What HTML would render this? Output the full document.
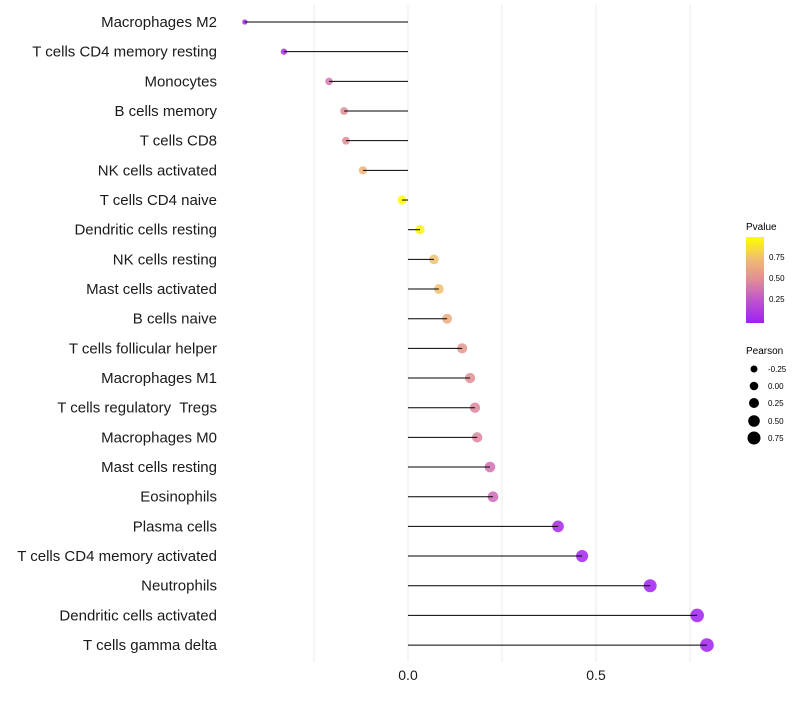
<!DOCTYPE html>
<html><head><meta charset="utf-8"><style>
body{margin:0;background:#fff;font-family:"Liberation Sans",sans-serif}
svg text{font-family:"Liberation Sans",sans-serif;white-space:pre}
</style></head><body>
<svg id="chart" width="800" height="700" xmlns="http://www.w3.org/2000/svg">
<defs><linearGradient id="pg" x1="0" y1="1" x2="0" y2="0">
<stop offset="0" stop-color="#a020f0"/><stop offset="0.25" stop-color="#be50d2"/><stop offset="0.5" stop-color="#e18c96"/><stop offset="0.75" stop-color="#f0be6e"/><stop offset="1" stop-color="#ffff00"/></linearGradient></defs>
<g id="grid"></g>
<g id="points"></g>
<g id="marks"></g>
<g id="ylabels"></g>
<g id="xlabels"></g>
<g>
<text x="746" y="230" font-size="10">Pvalue</text>
<rect x="746" y="237" width="18" height="86" fill="url(#pg)"/>
<text x="769" y="260" font-size="8">0.75</text>
<text x="769" y="281" font-size="8">0.50</text>
<text x="769" y="302" font-size="8">0.25</text>
</g>
<g>
<text x="746" y="354" font-size="10">Pearson</text>
<circle cx="754" cy="369" r="3.5" fill="#000"/><text x="768" y="372" font-size="8">-0.25</text>
<circle cx="754" cy="386" r="4.3" fill="#000"/><text x="768" y="389" font-size="8">0.00</text>
<circle cx="754" cy="403" r="5" fill="#000"/><text x="768" y="406" font-size="8">0.25</text>
<circle cx="754" cy="421" r="5.8" fill="#000"/><text x="768" y="424" font-size="8">0.50</text>
<circle cx="754" cy="438" r="6.5" fill="#000"/><text x="768" y="441" font-size="8">0.75</text>
</g>
</svg>
<script>
const categories=["Macrophages M2","T cells CD4 memory resting","Monocytes","B cells memory","T cells CD8","NK cells activated","T cells CD4 naive","Dendritic cells resting","NK cells resting","Mast cells activated","B cells naive","T cells follicular helper","Macrophages M1","T cells regulatory  Tregs","Macrophages M0","Mast cells resting","Eosinophils","Plasma cells","T cells CD4 memory activated","Neutrophils","Dendritic cells activated","T cells gamma delta"];
const pearson=[-0.434,-0.330,-0.210,-0.170,-0.165,-0.120,-0.016,0.032,0.069,0.082,0.104,0.144,0.165,0.178,0.184,0.218,0.226,0.399,0.463,0.644,0.769,0.795];
const pvalue=[0.02,0.1,0.4,0.5,0.5,0.7,1.0,0.95,0.75,0.75,0.65,0.55,0.5,0.47,0.47,0.38,0.36,0.03,0.02,0.0,0.0,0.0];
const gridTicks=[-0.25,0,0.25,0.5,0.75];
const xTickLabels=["0.0","0.5"];
const xTickValues=[0,0.5];
const NS="http://www.w3.org/2000/svg";
const x=v=>408+v*376;
const y=i=>22+i*29.67;
const rr=v=>Math.sqrt(Math.max(21+33*v,2));
function col(p){const s=[[0,[160,32,240]],[0.25,[190,80,210]],[0.5,[225,140,150]],[0.75,[240,190,110]],[1,[255,255,0]]];
for(let k=1;k<s.length;k++){if(p<=s[k][0]){const t=(p-s[k-1][0])/(s[k][0]-s[k-1][0]);const a=s[k-1][1],b=s[k][1];return `rgb(${a.map((c,j)=>Math.round(c+(b[j]-c)*t)).join(',')})`;}}return 'rgb(255,255,0)';}
function mk(tag,attrs,parent){const e=document.createElementNS(NS,tag);for(const k in attrs)e.setAttribute(k,attrs[k]);parent.appendChild(e);return e;}
const grid=document.getElementById('grid'),marks=document.getElementById('marks'),pts=document.getElementById('points'),yl=document.getElementById('ylabels'),xl=document.getElementById('xlabels');
gridTicks.forEach(t=>{const l=mk('line',{x1:x(t),x2:x(t),y1:5,y2:662,stroke:'#ebebeb','stroke-width':1},grid);

});
categories.forEach((c,i)=>{const l=mk('line',{x1:x(0),x2:x(pearson[i]),y1:y(i),y2:y(i),stroke:'#000','stroke-width':1},marks);


const d=mk('circle',{cx:x(pearson[i]),cy:y(i),r:rr(pearson[i]),fill:col(pvalue[i]),'fill-opacity':0.85},pts);


const t=mk('text',{x:217,y:y(i)+5,'text-anchor':'end','font-size':15,fill:'#1a1a1a'},yl);t.textContent=c;

});
xTickValues.forEach((v,i)=>{const t=mk('text',{x:x(v),y:680,'text-anchor':'middle','font-size':14,fill:'#1a1a1a'},xl);t.textContent=xTickLabels[i];

});
</script>
</body></html>
